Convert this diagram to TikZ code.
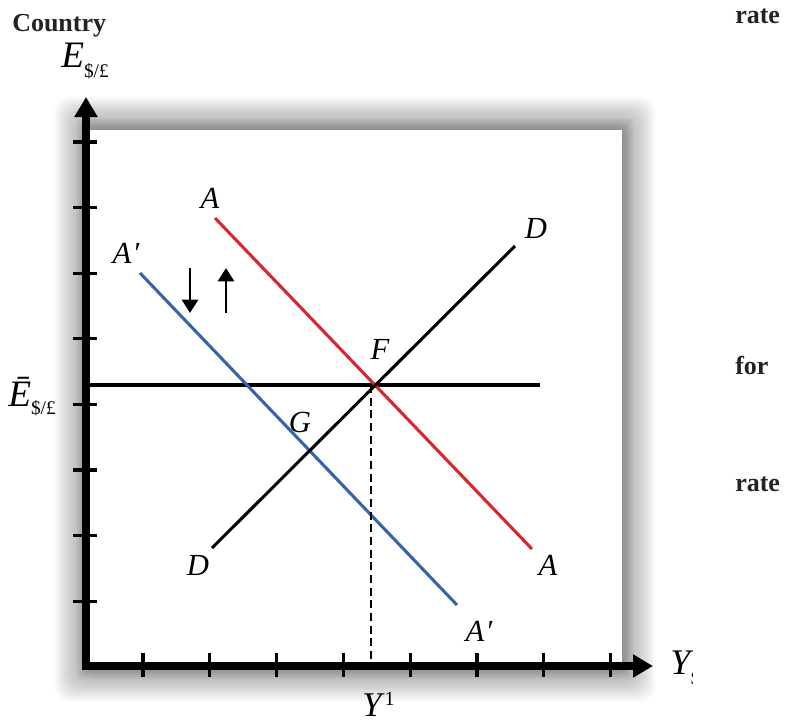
\documentclass[tikz,border=0pt]{standalone}
\usepackage{fontspec}
\setmainfont{Liberation Serif}
\usetikzlibrary{arrows.meta}
\definecolor{redline}{RGB}{218,37,44}
\definecolor{blueline}{RGB}{52,101,170}
\definecolor{wordgray}{RGB}{35,35,35}
\begin{document}
\begin{tikzpicture}[x=0.75pt,y=-0.75pt,
  lbl/.style={font=\fontsize{23}{23}\selectfont\itshape, inner sep=0pt},
  word/.style={font=\fontsize{19.5}{19.5}\selectfont\bfseries, text=wordgray, inner sep=0pt, anchor=base west},
  curve/.style={line width=2.3pt},
  axisline/.style={line width=6pt, line join=miter, {Triangle[length=15pt,width=16.5pt]}-{Triangle[length=15pt,width=16.5pt]}},
  tickmark/.style={line width=2.3pt},
  shift arrow/.style={line width=2.2pt, -{Triangle[length=10pt,width=12pt]}},
]
\useasboundingbox (0,0) rectangle (793,725);
% soft glow shadow around the plot box
\foreach \i in {1,...,34} {
  \fill[black, opacity=0.011, rounded corners=12pt] ({88-\i},{130-\i}) rectangle ({622+\i},{668+\i});
}
\foreach \i in {1,...,12} {
  \fill[black, opacity=0.016] ({88-\i},{130-\i}) rectangle ({622+\i},{668+\i});
}
\fill[white] (88,130) rectangle (622,666);

% coordinates
\coordinate (ytip) at (86,97);
\coordinate (orig) at (86,666);
\coordinate (xtip) at (653,666);
\coordinate (hl) at (90,385);
\coordinate (hr) at (540,385);
\coordinate (Atop) at (215,218);
\coordinate (Abot) at (532,549);
\coordinate (Aptop) at (140,273);
\coordinate (Apbot) at (457,605);
\coordinate (Dbot) at (212,548);
\coordinate (Dtop) at (515,246);
\coordinate (F) at (371,385);
\coordinate (Fx) at (371,662);

% main lines
\draw[curve] (hl) -- (hr);
\draw[curve, redline] (Atop) -- (Abot);
\draw[curve, blueline] (Aptop) -- (Apbot);
\draw[curve, black] (Dbot) -- (Dtop);
\draw[line width=1.8pt, dash pattern=on 6pt off 3.5pt] (F) -- (Fx);

% axes
\draw[axisline] (ytip) -- (orig) -- (xtip);
\foreach \k in {0,...,7} {
  \draw[tickmark] (73,{142+65.6*\k}) -- (97,{142+65.6*\k});
  \draw[tickmark] ({143+66.8*\k},653) -- ({143+66.8*\k},677);
}

% shift arrows
\coordinate (d1) at (190,268);
\coordinate (d2) at (190,313);
\coordinate (u1) at (226,313);
\coordinate (u2) at (226,268);
\draw[shift arrow] (d1) -- (d2);
\draw[shift arrow] (u1) -- (u2);

% point labels
\node[lbl] (lA1) at (210,198) {A};
\node[lbl] (lA2) at (126,253) {A\kern1pt′};
\node[lbl] (lD1) at (536,228) {D};
\node[lbl] (lF) at (380,349) {F};
\node[lbl] (lG) at (300,422) {G};
\node[lbl] (lD2) at (198,565) {D};
\node[lbl] (lA3) at (548,565) {A};
\node[lbl] (lA4) at (479,631) {A\kern1pt′};

% axis labels
\node[inner sep=0pt, anchor=base west] (lE) at (61,67)
  {\fontsize{28}{28}\selectfont\textit{E}\raisebox{-8pt}{\fontsize{14.5}{14.5}\selectfont \$/£}};
\node[inner sep=0pt, anchor=base west] (lEbar) at (8,406)
  {\fontsize{28}{28}\selectfont\textit{Ē}\raisebox{-6pt}{\fontsize{14.5}{14.5}\selectfont \$/£}};
\node[inner sep=0pt, anchor=base west] (lY1) at (362,716)
  {\fontsize{26}{26}\selectfont\textit{Y}\raisebox{8pt}{\fontsize{15}{15}\selectfont 1}};
\begin{scope}
  \clip (600,600) rectangle (692,725);
  \node[inner sep=0pt, anchor=base west] (lY) at (670,674)
    {\fontsize{27}{27}\selectfont\textit{Y}\kern-2pt\raisebox{-8pt}{\fontsize{14}{14}\selectfont \$}};
\end{scope}

% stray words
\node[word] (w1) at (12,31) {Country};
\node[word] (w2) at (735,23) {rate};
\node[word] (w3) at (735,374) {for};
\node[word] (w4) at (735,491) {rate};
\end{tikzpicture}
\end{document}
